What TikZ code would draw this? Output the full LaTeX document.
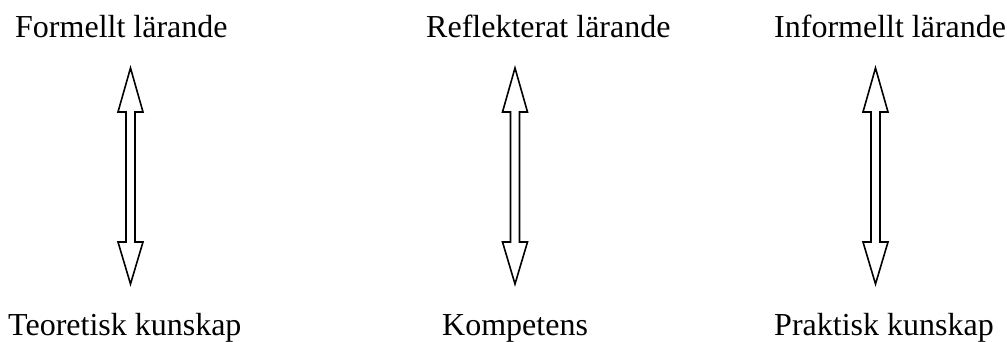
\documentclass[tikz,border=0pt]{standalone}
\usepackage{fontspec}
\setmainfont{Liberation Serif}
\usetikzlibrary{positioning}

\tikzset{
  label text/.style={font=\fontsize{32}{38}\selectfont, inner sep=0pt, anchor=base west},
  block arrow/.style={draw=black, fill=white, line width=1.6pt, line join=miter}
}

\begin{document}
\begin{tikzpicture}[x=1pt,y=1pt]
\useasboundingbox (0,0) rectangle (1007,342);
% top row
\node[label text] (formellt) at (15,304) {Formellt lärande};
\node[label text] (reflekterat) at (426,304) {Reflekterat lärande};
\node[label text] (informellt) at (774,304) {Informellt lärande};
% bottom row
\node[label text] (teoretisk) at (8,6) {Teoretisk kunskap};
\node[label text] (kompetens) at (442,6) {Kompetens};
\node[label text] (praktisk) at (774,6) {Praktisk kunskap};

% double block arrows
\draw[block arrow] (130.5,274) -- (143,230) -- (135,230) -- (135,100) -- (143,100) -- (130.5,58)
  -- (118,100) -- (126,100) -- (126,230) -- (118,230) -- cycle;
\draw[block arrow] (515,274) -- (527.5,230) -- (519.5,230) -- (519.5,100) -- (527.5,100) -- (515,58)
  -- (502.5,100) -- (510.5,100) -- (510.5,230) -- (502.5,230) -- cycle;
\draw[block arrow] (875.5,274) -- (888,230) -- (880,230) -- (880,100) -- (888,100) -- (875.5,58)
  -- (863,100) -- (871,100) -- (871,230) -- (863,230) -- cycle;

\end{tikzpicture}
\end{document}
